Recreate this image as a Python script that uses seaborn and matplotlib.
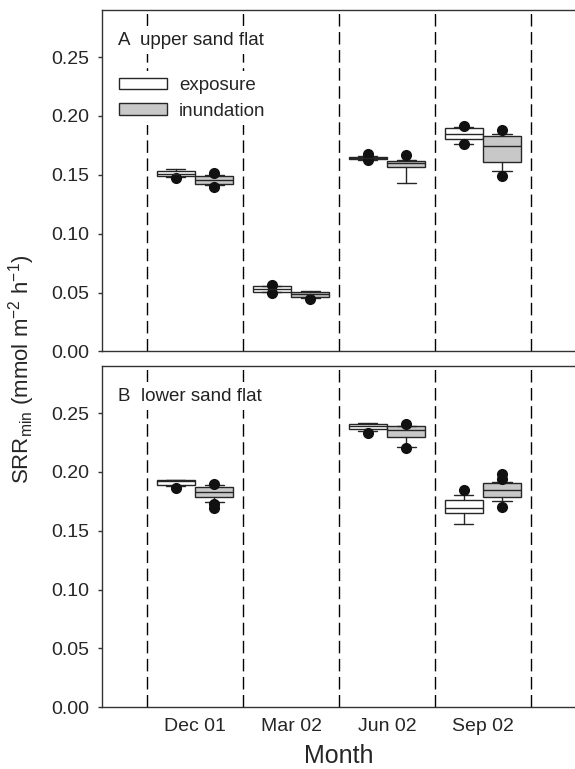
import matplotlib
matplotlib.use('Agg')
import matplotlib.pyplot as plt
from matplotlib.patches import Patch
import seaborn as sns
import numpy as np

sns.set_theme(style='ticks')
plt.rcParams['font.family'] = ['Liberation Sans', 'DejaVu Sans']
plt.rcParams['mathtext.fontset'] = 'custom'
plt.rcParams['mathtext.rm'] = 'Liberation Sans'
plt.rcParams['mathtext.it'] = 'Liberation Sans'

# Categories
months = ['Dec 01', 'Mar 02', 'Jun 02', 'Sep 02']
treatments = ['exposure', 'inundation']
panel_titles = ['A  upper sand flat', 'B  lower sand flat']

# Panel A: upper sand flat (box stats)
upper_exp_q1 = [0.1486, 0.0509, 0.1635, 0.1804]
upper_exp_med = [0.1510, 0.0531, 0.1642, 0.1847]
upper_exp_q3 = [0.1532, 0.0557, 0.1650, 0.1895]
upper_exp_lo = [0.1480, 0.0505, 0.1628, 0.1764]
upper_exp_hi = [0.1550, 0.0560, 0.1656, 0.1907]
upper_exp_out = [[0.1470], [0.0500, 0.0565], [0.1630, 0.1675], [0.1762, 0.1915]]

upper_inu_q1 = [0.1424, 0.0463, 0.1566, 0.1609]
upper_inu_med = [0.1458, 0.0489, 0.1600, 0.1747]
upper_inu_q3 = [0.1490, 0.0509, 0.1617, 0.1826]
upper_inu_lo = [0.1410, 0.0458, 0.1430, 0.1529]
upper_inu_hi = [0.1500, 0.0510, 0.1625, 0.1850]
upper_inu_out = [[0.1393, 0.1515], [0.0446], [0.1665], [0.1492, 0.1880]]

# Panel B: lower sand flat (no Mar 02 data)
lower_exp_q1 = [0.1885, np.nan, 0.2368, 0.1655]
lower_exp_med = [0.1925, np.nan, 0.2390, 0.1695]
lower_exp_q3 = [0.1930, np.nan, 0.2405, 0.1760]
lower_exp_lo = [0.1880, np.nan, 0.2350, 0.1555]
lower_exp_hi = [0.1932, np.nan, 0.2413, 0.1808]
lower_exp_out = [[0.1860], [], [0.2334], [0.1850]]

lower_inu_q1 = [0.1790, np.nan, 0.2297, 0.1790]
lower_inu_med = [0.1830, np.nan, 0.2353, 0.1848]
lower_inu_q3 = [0.1870, np.nan, 0.2390, 0.1905]
lower_inu_lo = [0.1743, np.nan, 0.2211, 0.1755]
lower_inu_hi = [0.1890, np.nan, 0.2393, 0.1916]
lower_inu_out = [[0.1690, 0.1730, 0.1900], [], [0.2206, 0.2410], [0.1700, 0.1942, 0.1985]]

fill_colors = ['white', '#c8c8c8']
edge = '#262626'


def make_stats(q1, med, q3, lo, hi, out):
    stats = []
    for i in range(len(q1)):
        if np.isnan(q1[i]):
            stats.append(None)
            continue
        stats.append(dict(q1=q1[i], med=med[i], q3=q3[i], whislo=lo[i],
                          whishi=hi[i], fliers=out[i]))
    return stats


panels = [
    [make_stats(upper_exp_q1, upper_exp_med, upper_exp_q3, upper_exp_lo, upper_exp_hi, upper_exp_out),
     make_stats(upper_inu_q1, upper_inu_med, upper_inu_q3, upper_inu_lo, upper_inu_hi, upper_inu_out)],
    [make_stats(lower_exp_q1, lower_exp_med, lower_exp_q3, lower_exp_lo, lower_exp_hi, lower_exp_out),
     make_stats(lower_inu_q1, lower_inu_med, lower_inu_q3, lower_inu_lo, lower_inu_hi, lower_inu_out)],
]

fig = plt.figure(figsize=(5.75, 7.69), dpi=100)
ax_top = fig.add_axes([0.1774, 0.543, 0.8226, 0.444])
ax_bot = fig.add_axes([0.1774, 0.0802, 0.8226, 0.4438])
axes = [ax_top, ax_bot]

for p, ax in enumerate(axes):
    # dashed separators between months
    for b in np.arange(-0.5, len(months), 1.0):
        ax.axvline(b, color='black', lw=1.0, ls=(0, (9, 4)), zorder=1)

    for t, stats in enumerate(panels[p]):
        offset = -0.2 if t == 0 else 0.2
        for i, st in enumerate(stats):
            if st is None:
                continue
            ax.bxp([st], positions=[i + offset], widths=0.4, patch_artist=True,
                   manage_ticks=False,
                   boxprops=dict(facecolor=fill_colors[t], edgecolor=edge, linewidth=1.0),
                   medianprops=dict(color=edge, linewidth=1.0),
                   whiskerprops=dict(color=edge, linewidth=1.0),
                   capprops=dict(color=edge, linewidth=1.0),
                   flierprops=dict(marker='o', markerfacecolor='#111111',
                                   markeredgecolor='#111111', markersize=7),
                   zorder=3)

    ax.set_xlim(-0.97, 3.96)
    ax.set_ylim(0, 0.29)
    ax.set_yticks([0.0, 0.05, 0.10, 0.15, 0.20, 0.25])
    ax.set_yticklabels(['0.00', '0.05', '0.10', '0.15', '0.20', '0.25'])
    ax.tick_params(axis='y', length=3, width=1.0, pad=6, labelsize=14, color='#333333')
    ax.tick_params(axis='x', length=0, pad=8, labelsize=14)
    for side in ['left', 'bottom', 'top']:
        ax.spines[side].set_color('#333333')
        ax.spines[side].set_linewidth(1.0)
    ax.spines['right'].set_visible(False)
    ax.text(0.034, 0.912, panel_titles[p], transform=ax.transAxes,
            fontsize=13.5, va='center', ha='left', color='#222222', zorder=5,
            bbox=dict(facecolor='white', edgecolor='none', pad=4))

ax_top.set_xticks([])
ax_bot.set_xticks(range(len(months)))
ax_bot.set_xticklabels(months)
ax_bot.set_xlabel('Month', fontsize=18, labelpad=6)

handles = [Patch(facecolor=fill_colors[t], edgecolor=edge, linewidth=1.0) for t in range(2)]
leg = ax_top.legend(handles, treatments, loc='upper left', bbox_to_anchor=(0.024, 0.82),
                    frameon=True, facecolor='white', edgecolor='none', framealpha=1,
                    fancybox=False, fontsize=13.5, handlelength=2.55, handleheight=0.55,
                    handletextpad=0.65, labelspacing=0.45, borderpad=0.3, borderaxespad=0)
leg.set_zorder(5)

fig.text(0.038, 0.52, 'SRR$_{\\mathrm{min}}$ (mmol m$^{-2}$ h$^{-1}$)', rotation=90,
         ha='center', va='center', fontsize=16)

fig.savefig('out.png', dpi=100)
